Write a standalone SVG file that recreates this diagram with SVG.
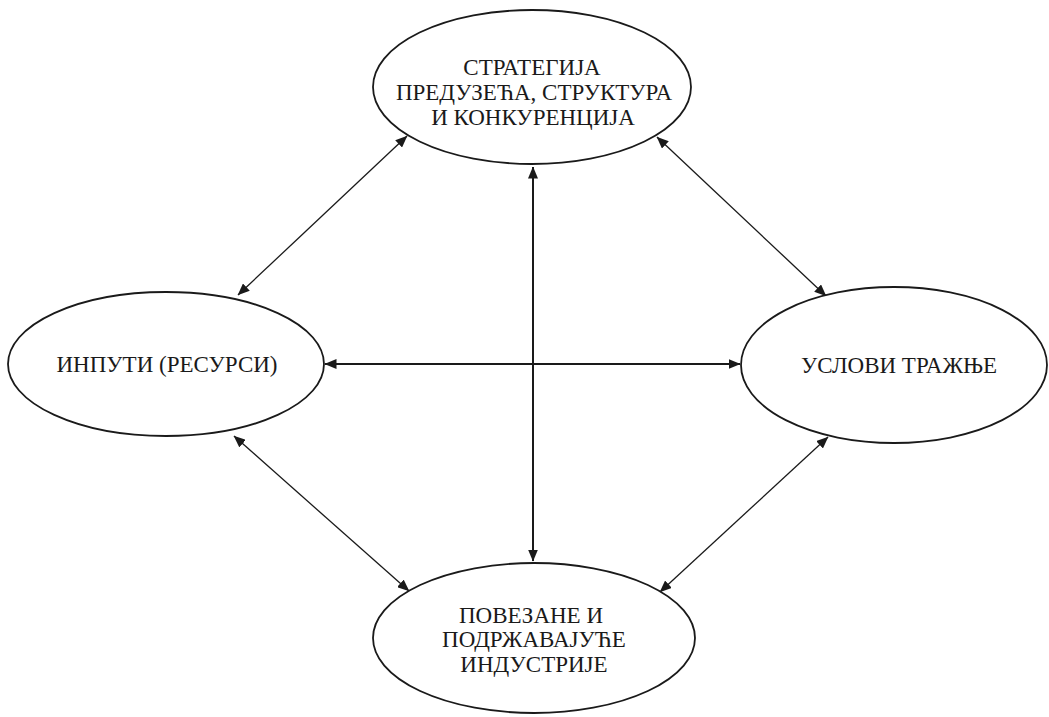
<svg xmlns="http://www.w3.org/2000/svg" width="1049" height="717" viewBox="0 0 1049 717">
  <style>
    .node ellipse { fill: #ffffff; stroke: #1a1a1a; stroke-width: 1.8; }
    .node text { font-family: "Liberation Serif", "Times New Roman", serif; font-size: 23px; fill: #1a1a1a; text-anchor: middle; }
    .thick { stroke: #1a1a1a; stroke-width: 2; fill: none; }
    .thin { stroke: #1a1a1a; stroke-width: 1.3; fill: none; }
  </style>
  <defs>
    <!-- filled triangular arrowhead, used at both ends of every connector -->
    <marker id="ah" markerUnits="userSpaceOnUse" markerWidth="12" markerHeight="10" refX="11.5" refY="5" orient="auto-start-reverse" viewBox="0 0 12 10">
      <path d="M0,0 L12,5 L0,10 Z" fill="#1a1a1a"/>
    </marker>
  </defs>
  <rect width="1049" height="717" fill="#ffffff"/>

  <g id="connectors">
    <line class="thick" x1="533" y1="167" x2="533" y2="561" marker-start="url(#ah)" marker-end="url(#ah)"/>
    <line class="thick" x1="325" y1="364" x2="740" y2="364" marker-start="url(#ah)" marker-end="url(#ah)"/>
    <line class="thin" x1="238" y1="295" x2="407" y2="136" marker-start="url(#ah)" marker-end="url(#ah)"/>
    <line class="thin" x1="657" y1="137" x2="826" y2="296" marker-start="url(#ah)" marker-end="url(#ah)"/>
    <line class="thin" x1="234" y1="436" x2="409" y2="591" marker-start="url(#ah)" marker-end="url(#ah)"/>
    <line class="thin" x1="828" y1="437" x2="660" y2="592" marker-start="url(#ah)" marker-end="url(#ah)"/>
  </g>

  <g id="strategy" class="node">
    <ellipse cx="532" cy="87" rx="159" ry="77"/>
    <text x="532" y="75">СТРАТЕГИЈА</text>
    <text x="534" y="100">ПРЕДУЗЕЋА, СТРУКТУРА</text>
    <text x="533" y="125">И КОНКУРЕНЦИЈА</text>
  </g>

  <g id="inputs" class="node">
    <ellipse cx="166" cy="364" rx="158" ry="72"/>
    <text x="167" y="372">ИНПУТИ (РЕСУРСИ)</text>
  </g>

  <g id="demand" class="node">
    <ellipse cx="894" cy="365" rx="153" ry="78"/>
    <text x="899" y="373">УСЛОВИ ТРАЖЊЕ</text>
  </g>

  <g id="industries" class="node">
    <ellipse cx="534" cy="638" rx="161" ry="75"/>
    <text x="531" y="623">ПОВЕЗАНЕ И</text>
    <text x="534" y="647">ПОДРЖАВАЈУЋЕ</text>
    <text x="534" y="672">ИНДУСТРИЈЕ</text>
  </g>
</svg>
